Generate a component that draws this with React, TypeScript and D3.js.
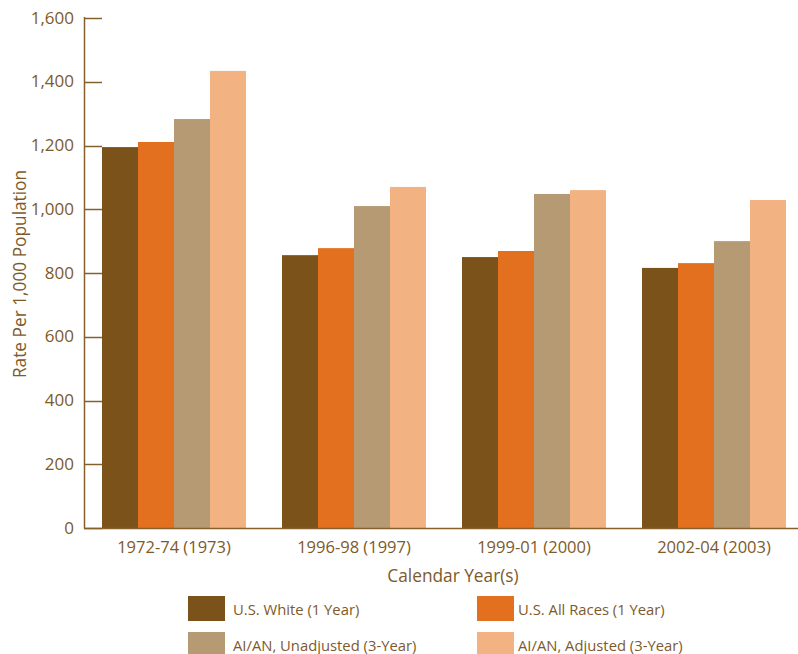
import React from "react";
import * as d3 from "d3";

const categories = ["1972-74 (1973)", "1996-98 (1997)", "1999-01 (2000)", "2002-04 (2003)"];
const seriesNames = ["U.S. White (1 Year)", "U.S. All Races (1 Year)", "AI/AN, Unadjusted (3-Year)", "AI/AN, Adjusted (3-Year)"];
const usWhite = [1195, 856, 850, 816];
const usAllRaces = [1211, 878, 869, 831];
const aianUnadjusted = [1283, 1010, 1048, 900];
const aianAdjusted = [1434, 1070, 1060, 1029];
const yTicks = [0, 200, 400, 600, 800, 1000, 1200, 1400, 1600];
const colors = ["#7B531A", "#E2701F", "#B59A73", "#F3B282"];

const W = 798;
const H = 654;
const FONT = "'Open Sans', 'Noto Sans', sans-serif";
const TEXT = "#7d5a2a";
const AXIS = "#86602b";

export default function App() {
  const series = [usWhite, usAllRaces, aianUnadjusted, aianAdjusted];
  const x = d3.scaleBand<string>().domain(categories).range([84, 804]).paddingInner(0.2).paddingOuter(0.1);
  const xs = d3.scaleBand<number>().domain([0, 1, 2, 3]).range([0, x.bandwidth()]);
  const y = d3.scaleLinear().domain([0, 1600]).range([528, 18]);

  const legend = [
    { i: 0, sx: 188, sy: 596, tx: 233 },
    { i: 1, sx: 477, sy: 596, tx: 518 },
    { i: 2, sx: 188, sy: 632, tx: 233 },
    { i: 3, sx: 477, sy: 632, tx: 518 },
  ];

  return (
    <svg width={W} height={H} style={{ position: "absolute", left: 0, top: 0 }} fontFamily={FONT}>
      {categories.map((c, ci) =>
        series.map((s, si) => (
          <rect key={c + si} x={(x(c) as number) + (xs(si) as number)} y={y(s[ci])} width={xs.bandwidth()} height={y(0) - y(s[ci])} fill={colors[si]} />
        ))
      )}
      <line x1={84.5} x2={84.5} y1={17} y2={528.5} stroke={AXIS} strokeWidth={1.5} />
      <line x1={84} x2={798} y1={528.5} y2={528.5} stroke={AXIS} strokeWidth={1.5} />
      {yTicks.map((t) => (
        <g key={t}>
          <line x1={84} x2={102} y1={Math.round(y(t)) + 0.5} y2={Math.round(y(t)) + 0.5} stroke={AXIS} strokeWidth={1.5} />
          <text x={74} y={y(t) + 5.5} textAnchor="end" fontSize={17} fill={TEXT}>{d3.format(",")(t)}</text>
        </g>
      ))}
      {categories.map((c) => (
        <text key={c} x={(x(c) as number) + x.bandwidth() / 2} y={553} textAnchor="middle" fontSize={16.5} fill={TEXT}>{c}</text>
      ))}
      <text x={453} y={582} textAnchor="middle" fontSize={17.3} fill={TEXT}>Calendar Year(s)</text>
      <text transform="translate(26,274) rotate(-90)" textAnchor="middle" fontSize={17.3} fill={TEXT}>Rate Per 1,000 Population</text>
      {legend.map((l) => (
        <g key={l.i}>
          <rect x={l.sx} y={l.sy} width={37} height={25} fill={colors[l.i]} />
          <text x={l.tx} y={l.sy + 19} fontSize={14.8} fill={TEXT}>{seriesNames[l.i]}</text>
        </g>
      ))}
    </svg>
  );
}
